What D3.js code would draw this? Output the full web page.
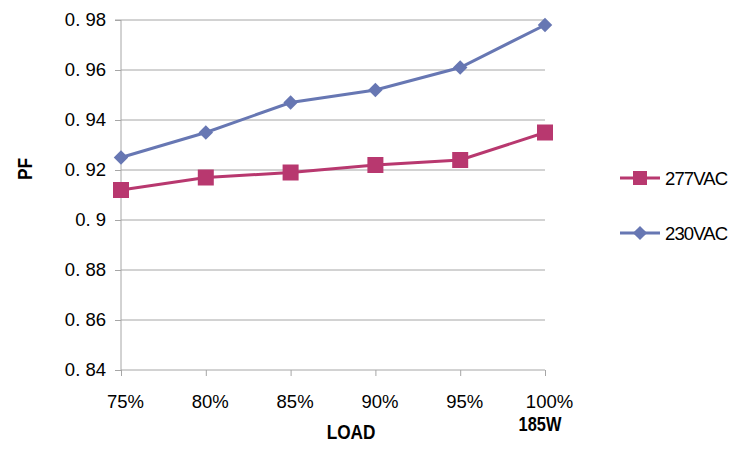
<!DOCTYPE html>
<html><head><meta charset="utf-8">
<script src="https://cdn.jsdelivr.net/npm/d3@7"></script>
<style>body{margin:0;background:#fff}svg{display:block}</style>
</head><body><svg id="c" width="738" height="450"></svg>
<script>
const categories = ["75%","80%","85%","90%","95%","100%"];
const yTicks = [0.84,0.86,0.88,0.90,0.92,0.94,0.96,0.98];
const yTickLabels = ["0. 84","0. 86","0. 88","0. 9","0. 92","0. 94","0. 96","0. 98"];
const s277 = [0.912,0.917,0.919,0.922,0.924,0.935];
const s230 = [0.925,0.935,0.947,0.952,0.961,0.978];
const seriesNames = ["277VAC","230VAC"];

const svg = d3.select("#c");
const L=121,R=545,T=20,B=370;
const x = d3.scalePoint().domain(categories).range([L,R]);
const y = d3.scaleLinear().domain([0.84,0.98]).range([B,T]);
const font = "'Liberation Sans', Arial, sans-serif";

// gridlines
svg.append("g").selectAll("line").data(yTicks.slice(1)).join("line")
  .attr("x1",L).attr("x2",R).attr("y1",d=>y(d)).attr("y2",d=>y(d))
  .attr("stroke","#a6a6a6").attr("stroke-width",1);

// y axis
const yAxis = d3.axisLeft(y).tickValues(yTicks).tickSize(6).tickPadding(9)
  .tickFormat((d,i)=>yTickLabels[i]);
const gy = svg.append("g").attr("transform",`translate(${L},0)`).call(yAxis);
gy.select(".domain").attr("stroke","#a6a6a6").attr("d",`M-6,${T}H0V${B}`);
gy.selectAll(".tick line").attr("stroke","#a6a6a6");
gy.selectAll("text").attr("font-family",font).attr("font-size",18.5).attr("fill","#000");

// x axis
const xAxis = d3.axisBottom(x).tickSize(6).tickPadding(0);
const gx = svg.append("g").attr("transform",`translate(0,${B})`).call(xAxis);
gx.select(".domain").attr("stroke","#a6a6a6").attr("d",`M${L},0H${R}`);
gx.selectAll(".tick line").attr("stroke","#a6a6a6");
gx.selectAll("text").attr("font-family",font).attr("font-size",18.5).attr("fill","#000")
  .attr("dx",4).attr("y",38).attr("dy",0);

// axis titles (condensed bold)
function narrowText(tx,ty,size,txt,rot){
  const g = svg.append("g").attr("transform",`translate(${tx},${ty})${rot?" rotate(-90)":""} scale(0.82,1)`);
  g.append("text").attr("text-anchor","middle").attr("font-family",font)
    .attr("font-weight","bold").attr("font-size",size).text(txt);
}
narrowText(x("100%")-5,431,20,"185W",false);
narrowText(351,439,21,"LOAD",false);
narrowText(32,169,21,"PF",true);

const colors = {"277VAC":"#b8386f","230VAC":"#6777b3"};
const line = d3.line().x((d,i)=>x(categories[i])).y(d=>y(d));

// series 230
svg.append("path").datum(s230).attr("d",line).attr("fill","none")
  .attr("stroke",colors["230VAC"]).attr("stroke-width",3);
svg.append("g").selectAll("path").data(s230).join("path")
  .attr("d",d3.symbol(d3.symbolSquare,105)())
  .attr("transform",(d,i)=>`translate(${x(categories[i])},${y(d)}) rotate(45)`)
  .attr("fill",colors["230VAC"]);

// series 277
svg.append("path").datum(s277).attr("d",line).attr("fill","none")
  .attr("stroke",colors["277VAC"]).attr("stroke-width",3);
svg.append("g").selectAll("rect").data(s277).join("rect")
  .attr("x",(d,i)=>x(categories[i])-8).attr("y",d=>y(d)-8)
  .attr("width",16).attr("height",16).attr("fill",colors["277VAC"]);

// legend
const leg = [{name:"277VAC",y:178,sym:"square"},{name:"230VAC",y:233,sym:"diamond"}];
const lg = svg.append("g");
leg.forEach(l=>{
  lg.append("line").attr("x1",620).attr("x2",660).attr("y1",l.y).attr("y2",l.y)
    .attr("stroke",colors[l.name]).attr("stroke-width",3);
  if(l.sym==="square"){
    lg.append("rect").attr("x",633).attr("y",l.y-7).attr("width",14).attr("height",14).attr("fill",colors[l.name]);
  } else {
    lg.append("path").attr("d",d3.symbol(d3.symbolSquare,100)())
      .attr("transform",`translate(640,${l.y}) rotate(45)`).attr("fill",colors[l.name]);
  }
  lg.append("text").attr("x",665).attr("y",l.y+7).attr("font-family",font).attr("font-size",18.5)
    .attr("letter-spacing",-0.9).text(l.name);
});
</script></body></html>
